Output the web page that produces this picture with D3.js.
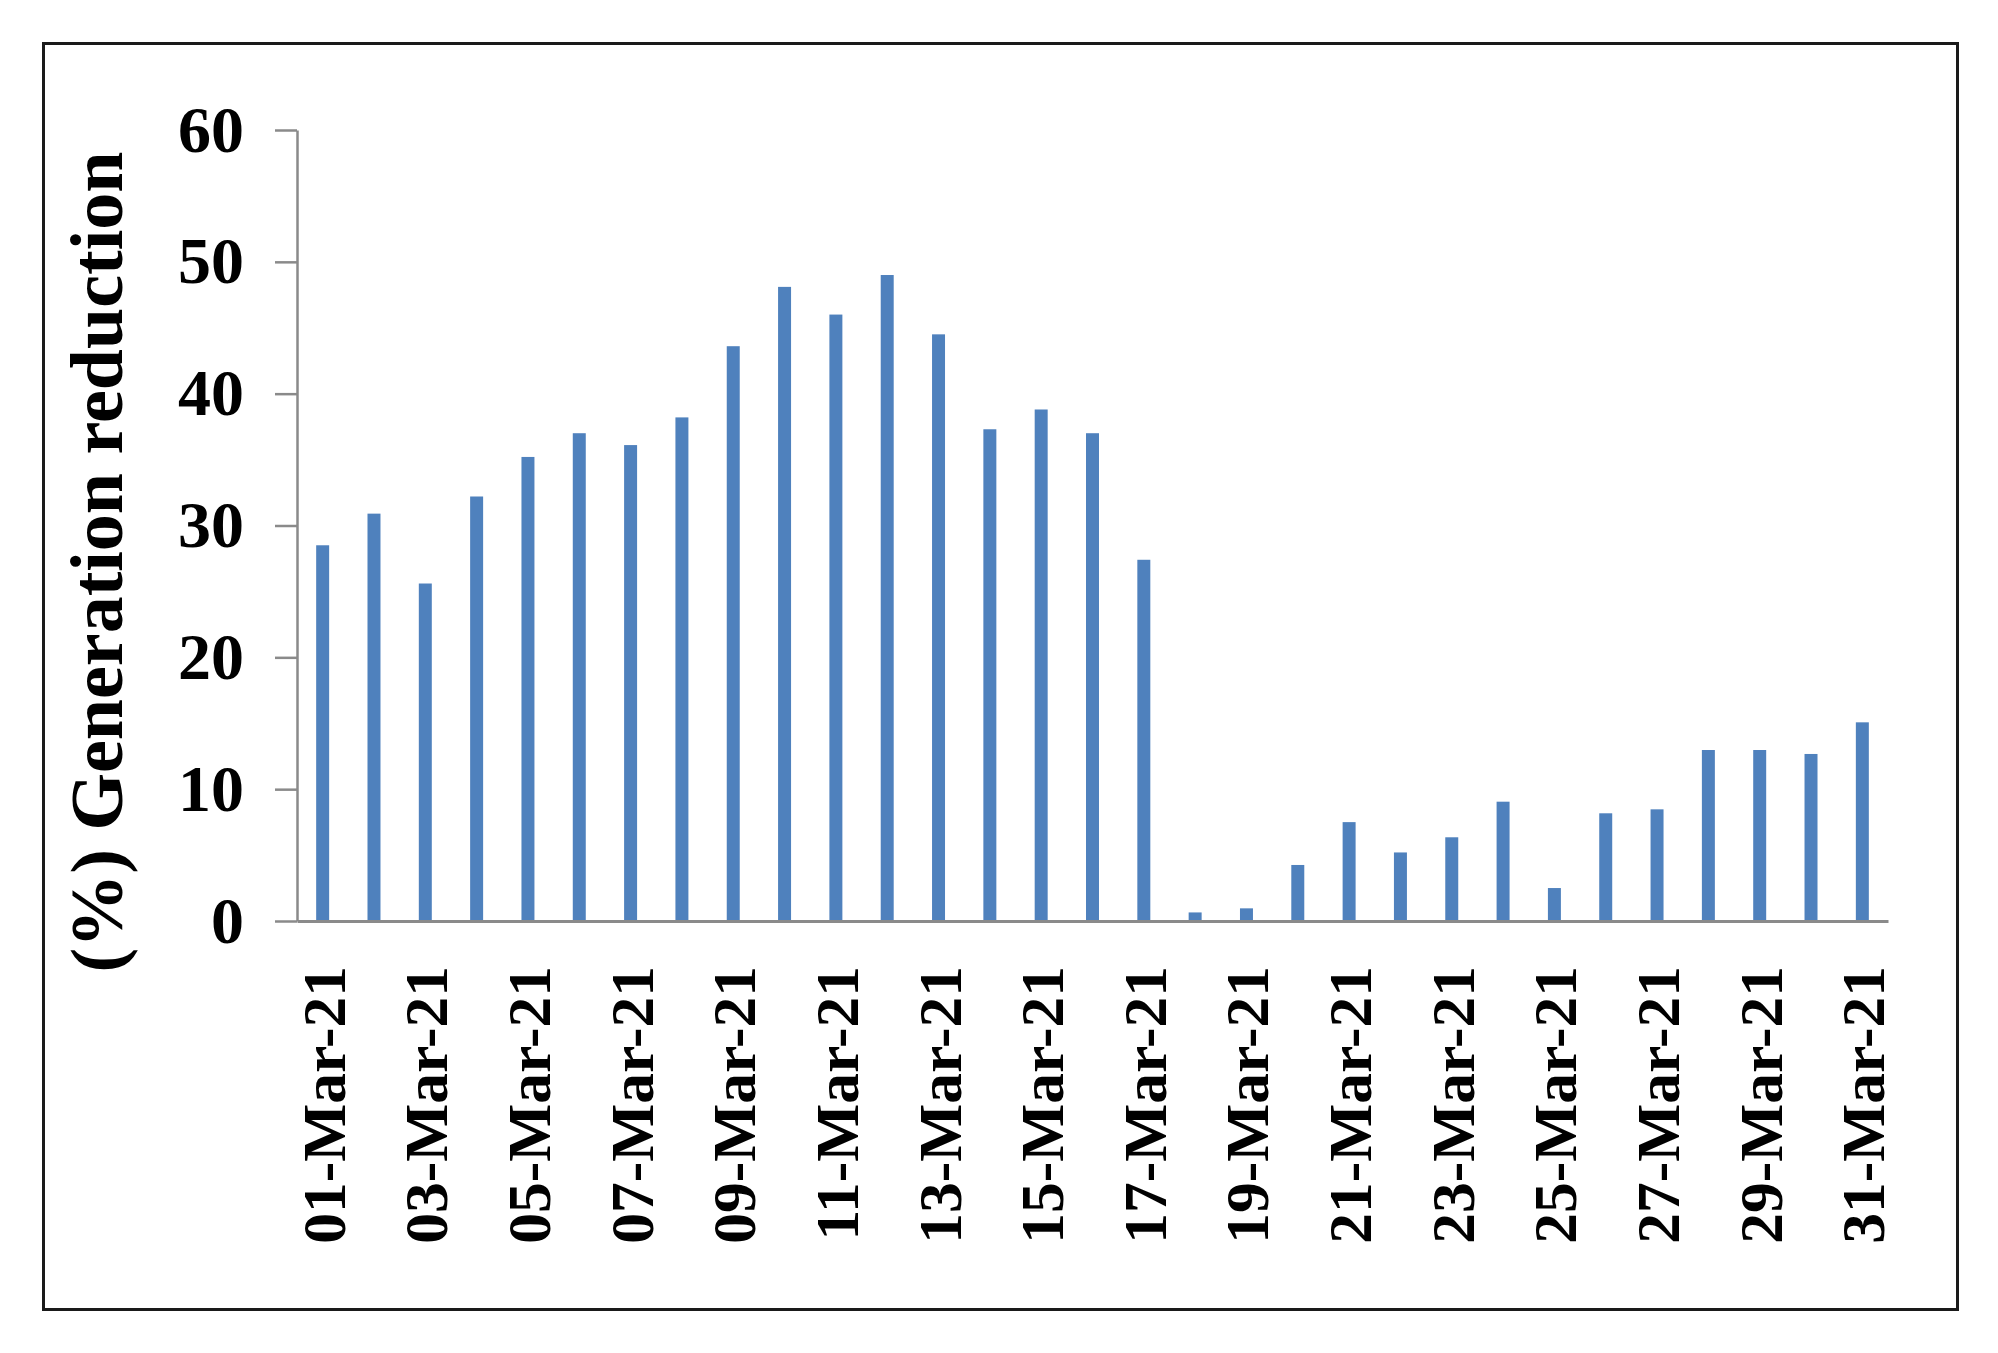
<!DOCTYPE html>
<html>
<head>
<meta charset="utf-8">
<script src="https://cdn.jsdelivr.net/npm/d3@7"></script>
<style>
  html, body { margin: 0; padding: 0; background: #ffffff; }
  svg { display: block; }
</style>
</head>
<body>
<div id="chart"></div>
<script>
// ---- Data ----
const categories = [
  "01-Mar-21","02-Mar-21","03-Mar-21","04-Mar-21","05-Mar-21","06-Mar-21","07-Mar-21","08-Mar-21",
  "09-Mar-21","10-Mar-21","11-Mar-21","12-Mar-21","13-Mar-21","14-Mar-21","15-Mar-21","16-Mar-21",
  "17-Mar-21","18-Mar-21","19-Mar-21","20-Mar-21","21-Mar-21","22-Mar-21","23-Mar-21","24-Mar-21",
  "25-Mar-21","26-Mar-21","27-Mar-21","28-Mar-21","29-Mar-21","30-Mar-21","31-Mar-21"
];
const generationReduction = [
  28.5, 30.9, 25.6, 32.2, 35.2, 37.0, 36.1, 38.2,
  43.6, 48.1, 46.0, 49.0, 44.5, 37.3, 38.8, 37.0,
  27.4, 0.65, 0.96, 4.25, 7.5, 5.2, 6.35, 9.05,
  2.5, 8.17, 8.47, 12.97, 12.97, 12.67, 15.07
];
const xTickLabels = [
  "01-Mar-21","03-Mar-21","05-Mar-21","07-Mar-21","09-Mar-21","11-Mar-21","13-Mar-21","15-Mar-21",
  "17-Mar-21","19-Mar-21","21-Mar-21","23-Mar-21","25-Mar-21","27-Mar-21","29-Mar-21","31-Mar-21"
];
const yTickValues = [0, 10, 20, 30, 40, 50, 60];
const yAxisTitle = "(%) Generation reduction";

// ---- Layout ----
const W = 1998, H = 1353;
const plot = { left: 297, right: 1888, top: 130, bottom: 921 };
const FONT = "'Liberation Serif', 'Times New Roman', Times, serif";
const AXIS_COLOR = "#8a8a8a";
const BAR_COLOR = "#4f81bd";

const svg = d3.select("#chart").append("svg")
  .attr("width", W).attr("height", H)
  .attr("viewBox", `0 0 ${W} ${H}`);

svg.append("rect").attr("x", 0).attr("y", 0).attr("width", W).attr("height", H).attr("fill", "#fff");

// outer frame
svg.append("rect")
  .attr("x", 43.5).attr("y", 43.5)
  .attr("width", 1914).attr("height", 1266)
  .attr("fill", "none").attr("stroke", "#1a1a1a").attr("stroke-width", 3);

const x = d3.scaleBand()
  .domain(categories)
  .range([plot.left, plot.right])
  .paddingInner(0.747)
  .paddingOuter(0.3735);

const y = d3.scaleLinear().domain([0, 60]).range([plot.bottom, plot.top]);

// bars
svg.append("g").selectAll("rect")
  .data(categories.map((c, i) => ({ c, v: generationReduction[i] })))
  .join("rect")
  .attr("x", d => x(d.c))
  .attr("width", x.bandwidth())
  .attr("y", d => y(d.v))
  .attr("height", d => y(0) - y(d.v))
  .attr("fill", BAR_COLOR);

// y axis
const yAxis = d3.axisLeft(y)
  .tickValues(yTickValues)
  .tickSize(22)
  .tickSizeOuter(0)
  .tickPadding(31)
  .tickFormat(d3.format("d"));

const gy = svg.append("g")
  .attr("transform", `translate(${plot.left},0)`)
  .call(yAxis);
gy.select(".domain").attr("stroke", AXIS_COLOR).attr("stroke-width", 2.5);
gy.selectAll(".tick line").attr("stroke", AXIS_COLOR).attr("stroke-width", 2.5);
gy.selectAll(".tick text")
  .attr("fill", "#000")
  .style("font-family", FONT)
  .style("font-weight", "bold")
  .style("font-size", "66px");

// x axis
const xAxis = d3.axisBottom(x)
  .tickValues(xTickLabels)
  .tickSize(0)
  .tickSizeOuter(0);

const gx = svg.append("g")
  .attr("transform", `translate(0,${plot.bottom})`)
  .call(xAxis);
gx.select(".domain").attr("stroke", AXIS_COLOR).attr("stroke-width", 3);
gx.selectAll(".tick text")
  .attr("fill", "#000")
  .attr("transform", "rotate(-90)")
  .attr("text-anchor", "end")
  .attr("x", -45)
  .attr("y", 22)
  .attr("dy", 0)
  .style("font-family", FONT)
  .style("font-weight", "bold")
  .style("font-size", "61.5px");

// y axis title
svg.append("text")
  .attr("transform", `translate(122,562) rotate(-90)`)
  .attr("text-anchor", "middle")
  .attr("fill", "#000")
  .style("font-family", FONT)
  .style("font-weight", "bold")
  .style("font-size", "74px")
  .text(yAxisTitle);
</script>
</body>
</html>
